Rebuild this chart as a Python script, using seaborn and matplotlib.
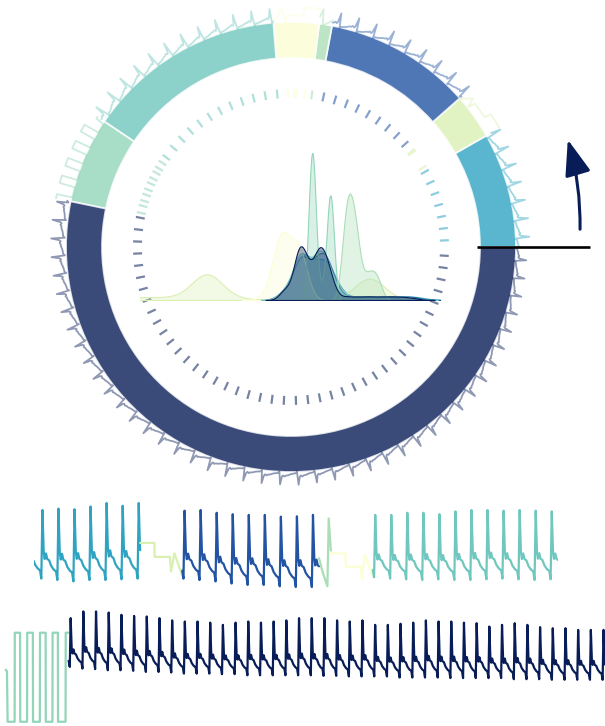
import numpy as np
import matplotlib
matplotlib.use("Agg")
import matplotlib.pyplot as plt
from matplotlib.patches import FancyArrowPatch
import seaborn as sns

sns.set_theme(style="white")
plt.rcParams["font.family"] = ["DejaVu Sans"]

# ---------------- recording: eight consecutive segments ----------------
seg_seconds = [4.95, 1.95, 6.35, 0.55, 1.95, 8.6, 3.7, 31.95]
seg_shade = [0.56, 0.19, 0.78, 0.30, 0.02, 0.41, 0.34, 1.0]
seg_row = [0, 0, 0, 0, 0, 0, 1, 1]
kde_bw = [1.0, 0.42, 1.0, 1.0, 2.5, 1.0, 1.4, 1.0]

beat_period = 0.745
pulse_phase = [-0.07, 0.0, 0.08, 0.14, 0.22, 0.30, 0.42, 0.55, 0.70, 0.85]
pulse_shape = [0.0, 1.0, 0.40, 0.30, 0.38, 0.30, 0.28, 0.20, 0.15, 0.12]

# pulsatile segments: first peak offset (s), peak and foot levels per beat
s0_first = 0.41
s0_peaks = [1.00, 1.02, 1.01, 1.05, 1.10, 1.06, 1.10]
s0_feet = [0.02, 0.00, -0.02, 0.00, 0.00, 0.01, 0.02]

s2_first = 0.11
s2_peaks = [0.99, 1.00, 0.96, 0.94, 0.93, 0.93, 0.905, 0.91, 0.93]
s2_feet = [0.02, 0.00, -0.02, -0.05, -0.07, -0.07, -0.09, -0.10, -0.10]

s5_first = 0.11
s5_peaks = [0.93, 0.93, 0.96, 0.96, 0.94, 0.98, 1.00, 1.00, 0.99, 1.00, 0.99, 0.98]
s5_feet = [0.04, 0.02, 0.01, 0.00, 0.01, 0.00, 0.00, 0.01, 0.02, 0.01, 0.00, 0.01]

s7_first = 0.12
s7_peaks = [0.89, 1.01, 1.01, 0.99, 0.95, 0.93, 0.92, 0.89, 0.85, 0.83,
            0.83, 0.81, 0.77, 0.81, 0.83, 0.81, 0.83, 0.85, 0.89, 0.89,
            0.89, 0.85, 0.83, 0.85, 0.77, 0.77, 0.79, 0.81, 0.85, 0.83,
            0.83, 0.81, 0.80, 0.74, 0.77, 0.80, 0.77, 0.73, 0.71, 0.71,
            0.68, 0.68, 0.68]
s7_feet = [0.02, -0.01, -0.02, -0.04, -0.04, -0.05, -0.07, -0.07, -0.08, -0.10,
           -0.10, -0.10, -0.11, -0.11, -0.13, -0.13, -0.13, -0.13, -0.13, -0.13,
           -0.14, -0.14, -0.15, -0.15, -0.15, -0.15, -0.17, -0.17, -0.17, -0.17,
           -0.18, -0.18, -0.18, -0.18, -0.18, -0.20, -0.20, -0.20, -0.21, -0.21,
           -0.21, -0.21, -0.21]

# non-pulsatile segments: corner points (s, level)
s1_t = [0.0, 0.66, 0.67, 1.38, 1.43, 1.59, 1.95]
s1_v = [0.53, 0.53, 0.33, 0.33, 0.12, 0.38, 0.06]
s3_t = [0.0, 0.08, 0.16, 0.26, 0.39, 0.45, 0.55]
s3_v = [0.31, 0.22, 0.12, 0.03, -0.09, 0.88, 0.42]
s4_t = [0.0, 0.68, 0.69, 1.40, 1.44, 1.58, 1.95]
s4_v = [0.38, 0.38, 0.19, 0.19, 0.02, 0.36, 0.05]
s6_t = [0.0, 0.08, 0.12, 0.53, 0.54, 0.85, 0.86, 1.26, 1.27, 1.60, 1.61,
        2.01, 2.02, 2.35, 2.36, 2.75, 2.76, 3.07, 3.08, 3.52, 3.53, 3.70]
s6_v = [-0.03, -0.06, -0.96, -0.96, 0.63, 0.63, -0.96, -0.96, 0.63, 0.63, -0.96,
        -0.96, 0.63, 0.63, -0.96, -0.96, 0.63, 0.63, -0.96, -0.96, 0.63, 0.63]

# event markers (s from segment start) for non-pulsatile segments
s1_events = [0.22, 1.36, 1.46]
s3_events = [0.45]
s4_events = [0.37, 0.85, 1.0, 1.4]
s6_events = [0.12, 0.53, 0.85, 1.26, 1.60, 2.01, 2.35, 2.75, 3.07, 3.52]

# physical value range of each non-pulsatile channel (for the density panel)
s1_range = (-2.09, 0.64)
s3_range = (0.45, 0.72)
s4_range = (-0.10, 0.14)
s6_range = (0.23, 0.36)


def pulse_trace(first, peaks, feet, duration):
    pk = [peaks[0]] + list(peaks)
    ft = [feet[0]] + list(feet)
    centers = [first + (k - 1) * beat_period for k in range(len(pk))]
    ts, vs = [], []
    for k, (tc, p, b) in enumerate(zip(centers, pk, ft)):
        nxt = ft[k + 1] if k + 1 < len(ft) else b
        for ph, sh in zip(pulse_phase, pulse_shape):
            ts.append(tc + ph * beat_period)
            vs.append(b if ph < 0 else nxt + sh * (p - nxt))
    ts.append(centers[-1] + 0.93 * beat_period)
    vs.append(ft[-1])
    ts, vs = np.array(ts), np.array(vs)
    keep = (ts > 0) & (ts < duration)
    t_out = np.concatenate([[0.0], ts[keep], [duration]])
    v_out = np.concatenate([[np.interp(0.0, ts, vs)], vs[keep],
                            [np.interp(duration, ts, vs)]])
    return t_out, v_out, np.array(centers[1:])


def pulse_segment(first, peaks, feet, duration):
    t, v, ev = pulse_trace(first, peaks, feet, duration)
    # baseline-corrected copy of the same beats, used for the densities
    amp = np.array(peaks) - np.array(feet)
    tk, vk, _ = pulse_trace(first, amp, np.zeros(len(amp)), duration)
    return t, v, ev, (tk, vk)


def step_segment(t, v, events, rng):
    t, v = np.array(t), np.array(v)
    vk = rng[0] + (v - v.min()) / (v.max() - v.min()) * (rng[1] - rng[0])
    return t, v, np.array(events), (t, vk)


traces = [
    pulse_segment(s0_first, s0_peaks, s0_feet, seg_seconds[0]),
    step_segment(s1_t, s1_v, s1_events, s1_range),
    pulse_segment(s2_first, s2_peaks, s2_feet, seg_seconds[2]),
    step_segment(s3_t, s3_v, s3_events, s3_range),
    step_segment(s4_t, s4_v, s4_events, s4_range),
    pulse_segment(s5_first, s5_peaks, s5_feet, seg_seconds[5]),
    step_segment(s6_t, s6_v, s6_events, s6_range),
    pulse_segment(s7_first, s7_peaks, s7_feet, seg_seconds[7]),
]

cmap = sns.color_palette("YlGnBu", as_cmap=True)
colors = [cmap(s) for s in seg_shade]
starts = np.concatenate([[0.0], np.cumsum(seg_seconds)[:-1]])
total = float(np.sum(seg_seconds))

W, H = 605, 726
fig = plt.figure(figsize=(W / 100, H / 100), dpi=100)
fig.patch.set_facecolor("white")

# ---------------- circular overview ----------------
cx, cy, R = 291, 247, 300
axp = fig.add_axes([(cx - R) / W, (H - cy - R) / H, 2 * R / W, 2 * R / H],
                   projection="polar")
axp.set_ylim(0, R)
axp.set_axis_off()

ring_in, ring_w = 189, 36
for i in range(8):
    th0 = 2 * np.pi * starts[i] / total
    span = 2 * np.pi * seg_seconds[i] / total
    axp.bar(th0 + span / 2, ring_w, width=span, bottom=ring_in,
            color=colors[i], alpha=0.8, edgecolor="white", linewidth=1.3,
            zorder=2)

for i, (t, v, ev, _) in enumerate(traces):
    theta = 2 * np.pi * (starts[i] + t) / total
    norm = (v - v.min()) / (v.max() - v.min())
    axp.plot(theta, 224 + 16 * norm, color=colors[i], alpha=0.45, lw=1.3,
             zorder=3)
    for e in ev:
        th = 2 * np.pi * (starts[i] + e) / total
        axp.plot([th, th], [149, 158], color=colors[i], alpha=0.55, lw=1.6,
                 solid_capstyle="butt", zorder=3)

axp.plot([0, 0], [186, 299], color="black", lw=1.9, solid_capstyle="butt",
         clip_on=False, zorder=5)

arrow = FancyArrowPatch((580 / W, 1 - 232 / H), (567 / W, 1 - 137 / H),
                        transform=fig.transFigure,
                        connectionstyle="arc3,rad=0.08",
                        arrowstyle="-|>,head_length=2.2,head_width=0.8",
                        mutation_scale=10, color=cmap(1.0), lw=2.2)
fig.add_artist(arrow)

# ---------------- value densities in the centre ----------------
axk = fig.add_axes([140 / W, (H - 300) / H, 300 / W, 150 / H])
axk.patch.set_alpha(0)
dt = 0.008
for i, (t, v, ev, (tk, vk)) in enumerate(traces):
    grid = np.arange(0, tk[-1], dt)
    vals = np.interp(grid, tk, vk)
    sns.kdeplot(x=vals, ax=axk, fill=True, color=colors[i], alpha=0.35,
                linewidth=0.8, bw_adjust=kde_bw[i])
ymax = max(c.get_paths()[0].vertices[:, 1].max() for c in axk.collections)
axk.set_xlim((140 - 280) / 140, (440 - 280) / 140)
axk.set_ylim(0, ymax * 150 / 147)
axk.set_axis_off()

# ---------------- linear strips ----------------
row_geom = {
    0: dict(x0=33.6, pxs=21.54, zero=580, pxv=70, top=495, bot=595),
    1: dict(x0=5.6, pxs=17.03, zero=668, pxv=56, top=605, bot=726),
}
row_axes = {}
for r, g in row_geom.items():
    if r == 0:
        left, right = g["x0"], 558.0
    else:
        left, right = 0.0, float(W)
    ax = fig.add_axes([left / W, (H - g["bot"]) / H, (right - left) / W,
                       (g["bot"] - g["top"]) / H])
    ax.set_xlim((left - g["x0"]) / g["pxs"], (right - g["x0"]) / g["pxs"])
    ax.set_ylim((g["zero"] - g["bot"]) / g["pxv"], (g["zero"] - g["top"]) / g["pxv"])
    ax.set_axis_off()
    ax.patch.set_alpha(0)
    row_axes[r] = ax

row_start = {0: 0.0, 1: starts[6]}
for i, (t, v, ev, _) in enumerate(traces):
    r = seg_row[i]
    sns.lineplot(x=starts[i] - row_start[r] + t, y=v, ax=row_axes[r],
                 color=colors[i], lw=1.6, estimator=None, sort=False)
for ax in row_axes.values():
    ax.set_xlabel("")
    ax.set_ylabel("")

fig.savefig("out.png", dpi=100, facecolor="white")
